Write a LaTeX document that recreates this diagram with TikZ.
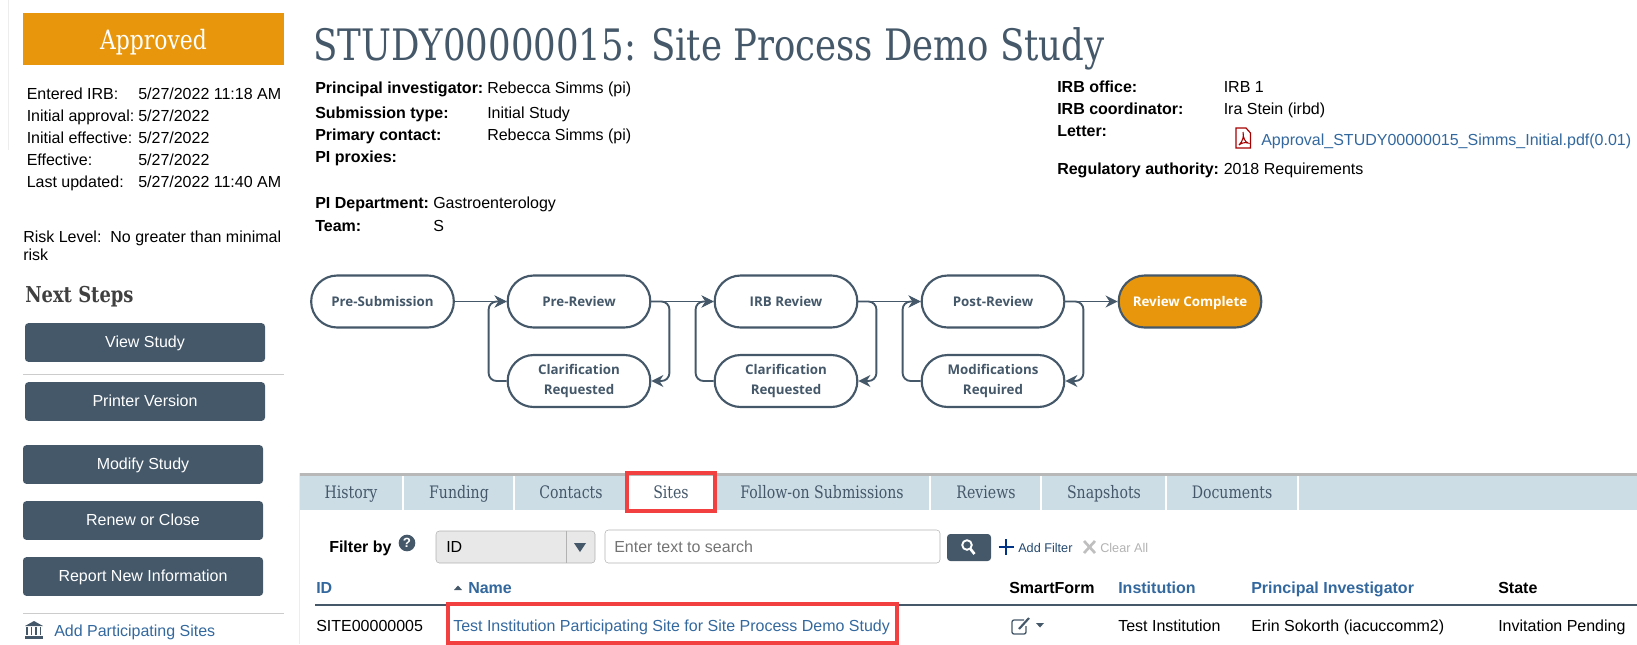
\documentclass[tikz,border=0pt]{standalone}
\usepackage{fontspec}
\setmainfont{Liberation Sans}
\newfontfamily\slabfont[FakeStretch=0.82]{DejaVu Serif}
\newfontfamily\flowfont{Open Sans}
\usetikzlibrary{arrows.meta}
\definecolor{slate}{HTML}{44586A}
\definecolor{amber}{HTML}{E8960C}
\definecolor{linkblue}{HTML}{33689E}
\definecolor{tabblue}{HTML}{CDDDE6}
\definecolor{alert}{HTML}{F24040}
\begin{document}
\begin{tikzpicture}[x=0.75pt,y=-0.75pt,
	txt/.style={anchor=base west, inner sep=0pt, yshift=-0.6pt, font=\fontsize{12}{14}\selectfont},
	lbl/.style={txt, font=\fontsize{12}{14}\selectfont\bfseries},
	lnk/.style={txt, text=linkblue},
	hdr/.style={lbl, text=linkblue},
	tabtxt/.style={anchor=base, inner sep=0pt, text=slate, font=\slabfont\fontsize{12.9}{15}\selectfont},
	btn/.style={fill=slate, text=white, rounded corners=2.5pt, minimum width=180pt, minimum height=29pt, inner sep=0pt, text height=9pt, text depth=2pt, font=\fontsize{12}{14}\selectfont},
	pill/.style={draw=slate, line width=1.6pt, fill=white, rounded corners=19.5pt, minimum width=107pt, minimum height=39pt, inner sep=0pt, align=center, text=slate, font=\flowfont\fontsize{10}{15}\selectfont\bfseries},
	flow/.style={draw=slate, line width=1.4pt, rounded corners=6pt, -{Stealth[length=9pt,width=9pt]}},
	redbox/.style={draw=alert, line width=2.6pt}]
	\useasboundingbox (0,0) rectangle (1637,644);

	% Faint page edges
	\draw[black!7] (8,0) -- (8,150);
	\draw[black!7] (299,473) -- (299,644);

	% Status banner and dates
	\node[fill=amber, text=white, minimum width=195.75pt, minimum height=39pt, inner sep=0pt, text depth=0pt, font=\slabfont\fontsize{20}{22}\selectfont] (status) at (153.5,39) {Approved};
	\foreach \i/\y/\lab/\val in {1/99/Entered IRB:/5\slash 27\slash 2022 11:18 AM, 2/121/Initial approval:/5\slash 27\slash 2022, 3/143/Initial effective:/5\slash 27\slash 2022, 4/165/Effective:/5\slash 27\slash 2022, 5/187/Last updated:/5\slash 27\slash 2022 11:40 AM} {
		\node[txt] (date\i) at (26.5,\y) {\lab};
		\node[txt] (dateval\i) at (138,\y) {\val};
	}
	\node[txt] (risk) at (23,242) {Risk Level:\ \ No greater than minimal};
	\node[txt] (risk2) at (23,260) {risk};
	\node[anchor=base west, inner sep=0pt, text=black!75, font=\slabfont\fontsize{16.4}{18}\selectfont\bfseries] (next) at (25,302) {Next Steps};

	% Buttons
	\node[btn] (view) at (145,342.5) {View Study};
	\node[btn] (printer) at (145,401.5) {Printer Version};
	\node[btn] (modify) at (143,464.5) {Modify Study};
	\node[btn] (renew) at (143,520.5) {Renew or Close};
	\node[btn] (report) at (143,576.5) {Report New Information};
	\draw[black!20, line width=0.6pt] (23,374) -- (284,374);
	\draw[black!20, line width=0.6pt] (23,613.5) -- (284,613.5);

	% Bank icon
	\fill[slate] (34,621) -- (43,626) -- (25,626) -- cycle;
	\fill[slate] (25,636) rectangle (43,638.5);
	\foreach \x in {27,31.5,36,40.5} {
		\fill[slate] (\x-0.9,627) rectangle (\x+0.9,635);
	}
	\node[lnk] (addsites) at (54,636) {Add Participating Sites};

	% Title and study details
	\node[anchor=base west, inner sep=0pt, text=slate, font=\slabfont\fontsize{32.5}{36}\selectfont] (title) at (313,60) {STUDY00000015: Site Process Demo Study};
	\node[lbl] (pi) at (315,93) {Principal investigator:};
	\node[txt] (pival) at (487,93) {Rebecca Simms (pi)};
	\node[lbl] (subm) at (315,118) {Submission type:};
	\node[txt] (submval) at (487,118) {Initial Study};
	\node[lbl] (contact) at (315,140) {Primary contact:};
	\node[txt] (contactval) at (487,140) {Rebecca Simms (pi)};
	\node[lbl] (proxies) at (315,162) {PI proxies:};
	\node[lbl] (dept) at (315,208) {PI Department:};
	\node[txt] (deptval) at (433,208) {Gastroenterology};
	\node[lbl] (team) at (315,231) {Team:};
	\node[txt] (teamval) at (433,231) {S};

	\node[lbl] (office) at (1057,92) {IRB office:};
	\node[txt] (officeval) at (1223.5,92) {IRB 1};
	\node[lbl] (coord) at (1057,114) {IRB coordinator:};
	\node[txt] (coordval) at (1223.5,114) {Ira Stein (irbd)};
	\node[lbl] (letter) at (1057,136) {Letter:};
	\node[lnk] (pdf) at (1261,144.5) {Approval\_STUDY00000015\_Simms\_Initial.pdf(0.01)};
	\node[lbl] (regul) at (1057,174) {Regulatory authority:};
	\node[txt] (regulval) at (1223.5,174) {2018 Requirements};

	% Pdf icon
	\draw[draw=red!65!black, line width=0.9pt, fill=white] (1236,128) -- (1246,128) -- (1250.5,133) -- (1250.5,148) -- (1236,148) -- cycle;
	\draw[draw=red!65!black, line width=0.8pt] (1239,145) .. controls (1243,141) and (1244,136) .. (1243,132) .. controls (1243,138) and (1245,142) .. (1248,143) .. controls (1245,142) and (1241,143) .. (1239,145);

	% Workflow states
	\node[pill] (presub) at (382.5,301.5) {Pre-Submission};
	\node[pill] (prerev) at (579,301.5) {Pre-Review};
	\node[pill] (clarA) at (579,381) {Clarification\\Requested};
	\node[pill] (irbrev) at (786,301.5) {IRB Review};
	\node[pill] (clarB) at (786,381) {Clarification\\Requested};
	\node[pill] (postrev) at (993,301.5) {Post-Review};
	\node[pill] (modif) at (993,381) {Modifications\\Required};
	\node[pill, fill=amber, text=white, text depth=0pt] (done) at (1190,301.5) {Review Complete};

	% Workflow connectors
	\draw[flow] (presub) -- (prerev);
	\draw[flow] (prerev) -- (irbrev);
	\draw[flow] (irbrev) -- (postrev);
	\draw[flow] (postrev) -- (done);
	\draw[flow] (clarA.west) -- ++(-18,0) |- (prerev.west);
	\draw[flow] (prerev.east) -- ++(18,0) |- (clarA.east);
	\draw[flow] (clarB.west) -- ++(-18,0) |- (irbrev.west);
	\draw[flow] (irbrev.east) -- ++(18,0) |- (clarB.east);
	\draw[flow] (modif.west) -- ++(-18,0) |- (postrev.west);
	\draw[flow] (postrev.east) -- ++(18,0) |- (modif.east);

	% Tab strip
	\fill[tabblue] (300,476) rectangle (1637,510);
	\fill[black!28] (300,473) rectangle (1637,476);
	\fill[white] (627,476) rectangle (715,510);
	\foreach \x in {403,514,930,1041,1166,1298} {
		\draw[white, line width=0.8pt] (\x,476) -- (\x,510);
	}
	\foreach \i/\x/\t in {1/351/History, 2/459/Funding, 3/571/Contacts, 4/671/Sites, 5/822/Follow-on Submissions, 6/986/Reviews, 7/1104/Snapshots, 8/1232/Documents} {
		\node[tabtxt] (tab\i) at (\x,498) {\t};
	}
	\draw[redbox] (627,473) rectangle (715,511);

	% Filter row
	\node[lbl] (filter) at (329,552) {Filter by};
	\node[circle, fill=slate, text=white, minimum size=12.5pt, inner sep=0pt, font=\fontsize{10}{10}\selectfont\bfseries] (help) at (407,543) {?};
	\draw[black!30, fill=black!9, rounded corners=2.5pt] (436,531) rectangle (595,563);
	\draw[black!30] (566,531) -- (566,563);
	\fill[slate] (574,543) -- (586,543) -- (580,552) -- cycle;
	\node[txt] (idsel) at (446,552) {ID};
	\draw[black!30, rounded corners=2.5pt] (605,530) rectangle (940,563);
	\node[txt, text=black!55] (search) at (614,552) {Enter text to search};
	\fill[slate, rounded corners=2.5pt] (947,534) rectangle (991,561);
	\draw[white, line width=1.4pt] (967,545) circle (4.8);
	\draw[white, line width=2pt] (970.5,549) -- (974.5,554);

	% Filter links
	\draw[blue!40!black!80!cyan, line width=2.2pt] (1006,539) -- (1006,555);
	\draw[blue!40!black!80!cyan, line width=2.2pt] (998.5,547) -- (1013.5,547);
	\node[txt, text=linkblue!70!black, font=\fontsize{9.5}{11}\selectfont] (addf) at (1018,552) {Add Filter};
	\draw[black!25, line width=2pt] (1084,541) -- (1095,553);
	\draw[black!25, line width=2pt] (1095,541) -- (1084,553);
	\node[txt, text=black!30, font=\fontsize{9.5}{11}\selectfont] (clear) at (1100,552) {Clear All};

	% Sites table
	\node[hdr] (hid) at (316,593) {ID};
	\fill[slate] (454,590) -- (462,590) -- (458,585.5) -- cycle;
	\node[hdr] (hname) at (468,593) {Name};
	\node[lbl] (hsmart) at (1009,593) {SmartForm};
	\node[hdr] (hinst) at (1118,593) {Institution};
	\node[hdr] (hpi) at (1251,593) {Principal Investigator};
	\node[lbl] (hstate) at (1498,593) {State};
	\draw[slate, line width=1.6pt] (315,605) -- (1637,605);
	\node[txt] (rid) at (316,631) {SITE00000005};
	\node[lnk] (rname) at (453,631) {Test Institution Participating Site for Site Process Demo Study};
	\node[txt] (rinst) at (1118,631) {Test Institution};
	\node[txt] (rpi) at (1251,631) {Erin Sokorth (iacuccomm2)};
	\node[txt] (rstate) at (1498,631) {Invitation Pending};
	\draw[redbox] (448,604) rectangle (897,643);

	% Edit icon
	\draw[slate, line width=1pt, rounded corners=1.5pt] (1024,620) -- (1012,620) -- (1012,634) -- (1026,634) -- (1026,626);
	\draw[slate, line width=1.6pt] (1019,629) -- (1029,618);
	\fill[slate] (1036,623) -- (1044,623) -- (1040,627.5) -- cycle;
\end{tikzpicture}
\end{document}
